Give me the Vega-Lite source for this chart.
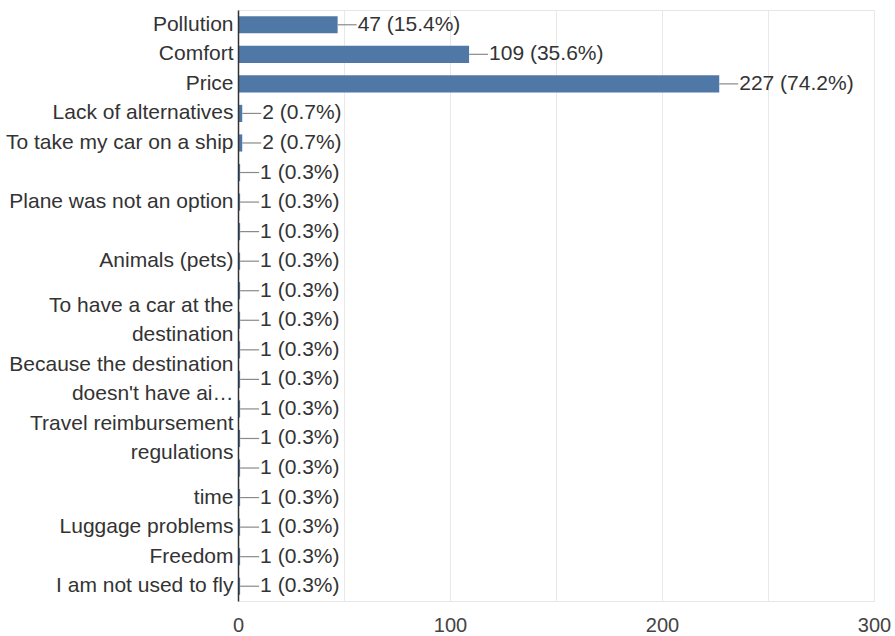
{
  "$schema": "https://vega.github.io/schema/vega-lite/v6.json",
  "width": 636,
  "height": 591,
  "autosize": {"type": "none"},
  "padding": {"left": 238, "top": 10, "right": 21, "bottom": 35},
  "background": "white",
  "config": {
    "font": "Liberation Sans",
    "view": {"stroke": "#e6e6e6", "strokeWidth": 1}
  },
  "data": {
    "values": [
      {"key": "01|Pollution", "count": 47, "pct": 15.4},
      {"key": "02|Comfort", "count": 109, "pct": 35.6},
      {"key": "03|Price", "count": 227, "pct": 74.2},
      {"key": "04|Lack of alternatives", "count": 2, "pct": 0.7},
      {"key": "05|To take my car on a ship", "count": 2, "pct": 0.7},
      {"key": "06|", "count": 1, "pct": 0.3},
      {"key": "07|Plane was not an option", "count": 1, "pct": 0.3},
      {"key": "08|", "count": 1, "pct": 0.3},
      {"key": "09|Animals (pets)", "count": 1, "pct": 0.3},
      {"key": "10|", "count": 1, "pct": 0.3},
      {"key": "11|To have a car at the|destination", "count": 1, "pct": 0.3},
      {"key": "12|", "count": 1, "pct": 0.3},
      {"key": "13|Because the destination|doesn't have ai…", "count": 1, "pct": 0.3},
      {"key": "14|", "count": 1, "pct": 0.3},
      {"key": "15|Travel reimbursement|regulations", "count": 1, "pct": 0.3},
      {"key": "16|", "count": 1, "pct": 0.3},
      {"key": "17|time", "count": 1, "pct": 0.3},
      {"key": "18|Luggage problems", "count": 1, "pct": 0.3},
      {"key": "19|Freedom", "count": 1, "pct": 0.3},
      {"key": "20|I am not used to fly", "count": 1, "pct": 0.3}
    ]
  },
  "transform": [
    {"calculate": "datum.count + ' (' + format(datum.pct, '.1f') + '%)'", "as": "txt"}
  ],
  "encoding": {
    "y": {
      "field": "key",
      "type": "nominal",
      "sort": "ascending",
      "bandPosition": 0.5,
      "scale": {"paddingInner": 0.42, "paddingOuter": 0.21},
      "axis": {
        "title": null,
        "ticks": false,
        "labelExpr": "slice(split(datum.value, '|'), 1)",
        "labelFontSize": 21,
        "labelColor": "#333333",
        "labelLineHeight": 29,
        "labelOffset": {"condition": {"test": "length(split(datum.value, '|')) > 2", "value": -14.5}, "value": 0},
        "labelPadding": 5,
        "labelLimit": 300,
        "domainColor": "#333333",
        "domainWidth": 1.5,
        "zindex": 1
      }
    }
  },
  "layer": [
    {
      "mark": {"type": "bar", "color": "#4f78a7"},
      "encoding": {
        "x": {
          "field": "count",
          "type": "quantitative",
          "scale": {"domain": [0, 300], "nice": false},
          "axis": {
            "title": null,
            "values": [0, 50, 100, 150, 200, 250, 300],
            "labelExpr": "datum.value % 100 == 0 ? datum.label : ''",
            "labelFlush": false,
            "ticks": false,
            "domain": false,
            "gridColor": "#e8e8e8",
            "labelFontSize": 20,
            "labelColor": "#444444",
            "labelPadding": 14
          }
        }
      }
    },
    {
      "mark": {"type": "rule", "color": "#8a8a8a", "strokeWidth": 1.2, "x2Offset": 19},
      "encoding": {
        "x": {"field": "count", "type": "quantitative"},
        "x2": {"field": "count"}
      }
    },
    {
      "mark": {"type": "text", "align": "left", "baseline": "middle", "dx": 20, "fontSize": 21, "color": "#333333"},
      "encoding": {
        "x": {"field": "count", "type": "quantitative"},
        "text": {"field": "txt"}
      }
    }
  ]
}
